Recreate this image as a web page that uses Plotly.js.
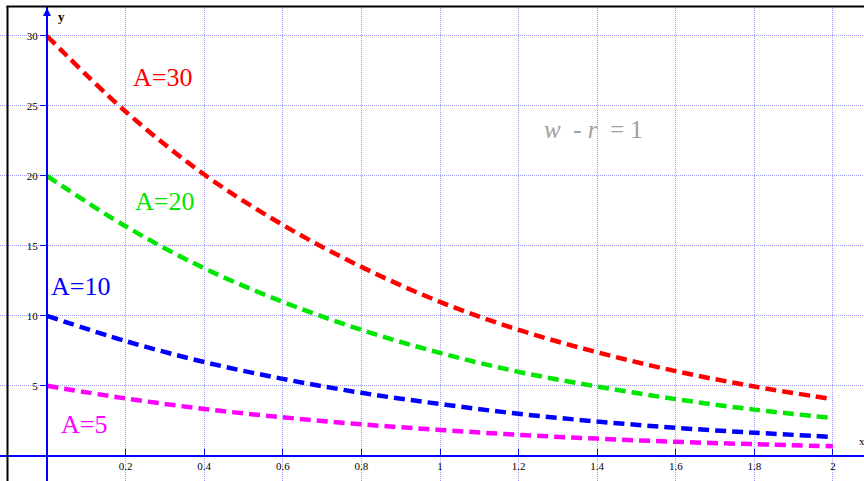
<!DOCTYPE html>
<html>
<head>
<meta charset="utf-8">
<script src="https://cdn.plot.ly/plotly-3.0.1.min.js"></script>
<style>html,body{margin:0;padding:0;background:#fff;}#chart{width:864px;height:481px;}</style>
</head>
<body>
<div id="chart"></div>
<script>
// Values
const xs = [0, 0.2, 0.4, 0.6, 0.8, 1.0, 1.2, 1.4, 1.6, 1.8, 2.0];
const yA30 = [30, 24.6, 20.1, 16.5, 13.5, 11.0, 9.0, 7.4, 6.05, 4.95, 4.05];
const yA20 = [20, 16.4, 13.4, 11.0, 9.0, 7.35, 6.0, 4.95, 4.05, 3.3, 2.7];
const yA10 = [10, 8.2, 6.7, 5.5, 4.5, 3.7, 3.0, 2.45, 2.0, 1.65, 1.35];
const yA5  = [5, 4.1, 3.35, 2.75, 2.25, 1.85, 1.5, 1.23, 1.0, 0.83, 0.68];
const seriesNames = ['A=30', 'A=20', 'A=10', 'A=5'];
const xTickVals = [0.2, 0.4, 0.6, 0.8, 1, 1.2, 1.4, 1.6, 1.8, 2];
const xTickText = ['0.2', '0.4', '0.6', '0.8', '1', '1.2', '1.4', '1.6', '1.8', '2'];
const yTickVals = [5, 10, 15, 20, 25, 30];
const yTickText = ['5', '10', '15', '20', '25', '30'];

const colors = ['#ff0000', '#00e600', '#0000ff', '#ff00ff'];
const ys = [yA30, yA20, yA10, yA5];

const xr = [-0.1196, 2.0789];
const yr = [-1.80, 32.57];
const serif = 'Liberation Serif, Times New Roman, serif';

const traces = ys.map((y, i) => ({
  x: xs, y: y, type: 'scatter', mode: 'lines', name: seriesNames[i],
  line: {color: colors[i], width: 4.5, dash: '11px,6px', shape: 'spline'},
  hoverinfo: 'skip'
}));

const labelPos = [[0.295, 27.0], [0.30, 18.2], [0.084, 12.1], [0.094, 2.27]];
const annotations = seriesNames.map((n, i) => ({
  x: labelPos[i][0], y: labelPos[i][1], xref: 'x', yref: 'y', text: n, showarrow: false,
  font: {family: serif, size: 26, color: colors[i]}
}));
annotations.push({x: 1.39, y: 23.35, xref: 'x', yref: 'y', showarrow: false,
  text: '<i>w</i>&nbsp;&nbsp;-&nbsp;<i>r</i>&nbsp;&nbsp;=&nbsp;1', font: {family: serif, size: 25, color: '#a0a0a0'}});
annotations.push({x: 0.038, y: 31.4, xref: 'x', yref: 'y', showarrow: false,
  text: '<b>y</b>', font: {family: serif, size: 13, color: '#000'}});
annotations.push({x: 2.074, y: 1.06, xref: 'x', yref: 'y', showarrow: false,
  text: 'x', font: {family: serif, size: 11, color: '#000'}});
// arrow at top of y axis
annotations.push({x: 0, y: 32.0, xref: 'x', yref: 'y', ax: 0, ay: 14, axref: 'pixel', ayref: 'pixel',
  text: '', showarrow: true, arrowhead: 2, arrowsize: 0.8, arrowwidth: 2, arrowcolor: '#0000ff', standoff: 0});

const layout = {
  width: 864, height: 481,
  margin: {l: 0, r: 0, t: 0, b: 0},
  paper_bgcolor: '#fff', plot_bgcolor: '#fff',
  showlegend: false,
  xaxis: {
    range: xr, anchor: 'free', position: (0 - yr[0]) / (yr[1] - yr[0]),
    tickvals: xTickVals, ticktext: xTickText,
    showline: true, linecolor: '#0000ff', linewidth: 2,
    ticks: 'inside', ticklen: 6, tickcolor: '#0000ff', tickwidth: 1,
    showgrid: true, gridcolor: '#9a9aff', griddash: '1px,1px', gridwidth: 1,
    zeroline: false,
    tickfont: {family: serif, size: 11, color: '#000'}
  },
  yaxis: {
    range: yr, anchor: 'free', position: (0 - xr[0]) / (xr[1] - xr[0]),
    tickvals: yTickVals, ticktext: yTickText,
    showline: true, linecolor: '#0000ff', linewidth: 2,
    ticks: 'outside', ticklen: 6, tickcolor: '#0000ff', tickwidth: 1,
    showgrid: true, gridcolor: '#9a9aff', griddash: '1px,1px', gridwidth: 1,
    zeroline: false,
    tickfont: {family: serif, size: 11, color: '#000'}
  },
  shapes: [
    {type: 'rect', xref: 'paper', yref: 'paper', x0: 0, x1: 7 / 864, y0: 0, y1: 1,
      fillcolor: '#fff', line: {width: 0}, layer: 'between'},
    {type: 'rect', xref: 'paper', yref: 'paper', x0: 0, x1: 1, y0: 1 - 7 / 481, y1: 1,
      fillcolor: '#fff', line: {width: 0}, layer: 'above'},
    {type: 'line', xref: 'paper', yref: 'paper', x0: 7.5 / 864, x1: 7.5 / 864, y0: 0, y1: 1 - 6 / 481,
      line: {color: '#000', width: 2}, layer: 'above'},
    {type: 'line', xref: 'paper', yref: 'paper', x0: 6.5 / 864, x1: 1, y0: 1 - 6.5 / 481, y1: 1 - 6.5 / 481,
      line: {color: '#000', width: 2}, layer: 'above'}
  ],
  annotations: annotations
};

Plotly.newPlot('chart', traces, layout, {displayModeBar: false, staticPlot: true});
</script>
</body>
</html>
